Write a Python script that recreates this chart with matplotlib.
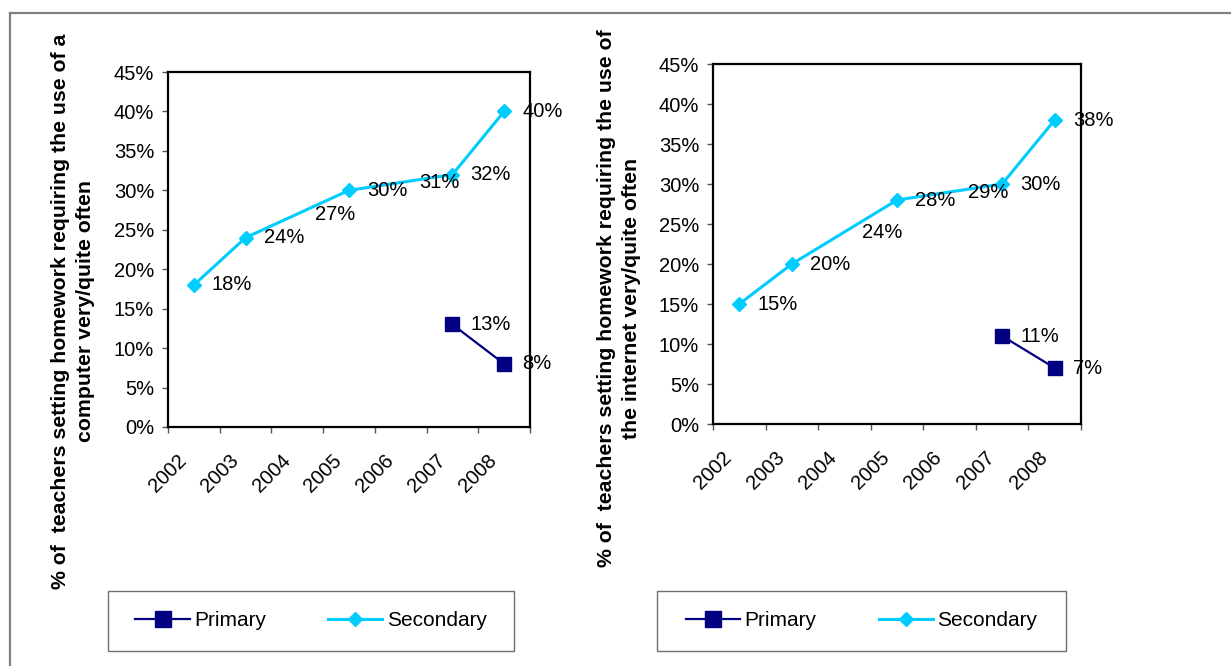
import numpy as np
import matplotlib
matplotlib.use('Agg')
import matplotlib.pyplot as plt
from matplotlib.lines import Line2D
from matplotlib.patches import Rectangle

plt.rcParams['font.family'] = ['Liberation Sans', 'DejaVu Sans']

years = ['2002', '2003', '2004', '2005', '2006', '2007', '2008']
nan = np.nan

# % of teachers setting homework requiring a computer
computer_secondary = [18, 24, 27, 30, 31, 32, 40]
computer_primary = [nan, nan, nan, nan, nan, 13, 8]

# % of teachers setting homework requiring the internet
internet_secondary = [15, 20, 24, 28, 29, 30, 38]
internet_primary = [nan, nan, nan, nan, nan, 11, 7]

# years with no marker drawn on the secondary line
no_marker = ['2004', '2006']

ylabel_computer = '% of  teachers setting homework requiring the use of a\ncomputer very/quite often'
ylabel_internet = '% of  teachers setting homework requiring the use of\nthe internet very/quite often'

SEC_COLOR = '#00CCFF'
PRI_COLOR = '#000080'
FONT = 14.5

W, H = 1231, 666
fig = plt.figure(figsize=(W / 100, H / 100), dpi=100)


def px_box(x0, y0, x1, y1):
    return [x0 / W, 1 - y1 / H, (x1 - x0) / W, (y1 - y0) / H]


def draw_panel(ax, secondary, primary):
    x = np.arange(len(years)) + 0.5
    sec = np.array(secondary, dtype=float)
    pri = np.array(primary, dtype=float)

    ax.plot(x, sec, color=SEC_COLOR, lw=2.2, zorder=3)
    keep = [y not in no_marker for y in years]
    ax.plot(x[keep], sec[keep], ls='none', marker='D', ms=7.4,
            color=SEC_COLOR, zorder=4)
    ax.plot(x, pri, color=PRI_COLOR, lw=1.6, marker='s', ms=10.5,
            zorder=4)

    for xi, v in zip(x, sec):
        ax.annotate('{:.0f}%'.format(v), (xi, v), xytext=(13, 0),
                    textcoords='offset points', va='center', ha='left',
                    fontsize=FONT, zorder=5)
    for xi, v in zip(x, pri):
        if not np.isnan(v):
            ax.annotate('{:.0f}%'.format(v), (xi, v), xytext=(13, 0),
                        textcoords='offset points', va='center', ha='left',
                        fontsize=FONT, zorder=5)

    ax.set_xlim(0, len(years))
    ax.set_ylim(0, 45)
    ax.set_yticks(np.arange(0, 46, 5))
    ax.set_yticklabels(['{}%'.format(v) for v in range(0, 46, 5)])
    ax.set_xticks(np.arange(len(years) + 1))
    ax.set_xticklabels(years + [''], rotation=45, ha='center')
    ax.tick_params(axis='y', length=4, width=1, color='#555555',
                   labelsize=FONT, pad=6)
    ax.tick_params(axis='x', length=4, width=1, color='#555555',
                   labelsize=FONT, pad=13)
    for s in ax.spines.values():
        s.set_linewidth(1.6)
        s.set_color('black')


ax1 = fig.add_axes(px_box(168, 72, 530, 427))
draw_panel(ax1, computer_secondary, computer_primary)
ax2 = fig.add_axes(px_box(713, 64, 1081, 424))
draw_panel(ax2, internet_secondary, internet_primary)

fig.text(73 / W, 1 - 311 / H, ylabel_computer, rotation=90, ha='center',
         va='center', multialignment='center', fontsize=15.3,
         fontweight='bold', linespacing=1.35)
fig.text(619 / W, 1 - 298 / H, ylabel_internet, rotation=90, ha='center',
         va='center', multialignment='center', fontsize=15.3,
         fontweight='bold', linespacing=1.35)

# legends in their own boxes under each panel
handles = [
    Line2D([], [], color=PRI_COLOR, lw=1.6, marker='s', ms=11),
    Line2D([], [], color=SEC_COLOR, lw=2.2, marker='D', ms=7.6),
]
for (x0, x1) in [(108, 514), (657, 1066)]:
    fig.patches.append(Rectangle((x0 / W, 1 - 651 / H), (x1 - x0) / W,
                                 60 / H, transform=fig.transFigure,
                                 fill=False, edgecolor='#707070', lw=1.0))
    fig.legend(handles, ['Primary', 'Secondary'], loc='center',
               bbox_to_anchor=((x0 + x1) / 2 / W, 1 - 621 / H), ncol=2,
               frameon=False, fontsize=15, handlelength=2.6,
               handletextpad=0.2, columnspacing=3.0)

# outer frame: top and left edges only
fig.add_artist(Line2D([10 / W, 1], [1 - 13 / H, 1 - 13 / H],
                      transform=fig.transFigure, color='#808080', lw=1.6))
fig.add_artist(Line2D([10 / W, 10 / W], [0, 1 - 13 / H],
                      transform=fig.transFigure, color='#808080', lw=1.6))

fig.savefig('out.png', dpi=100)
